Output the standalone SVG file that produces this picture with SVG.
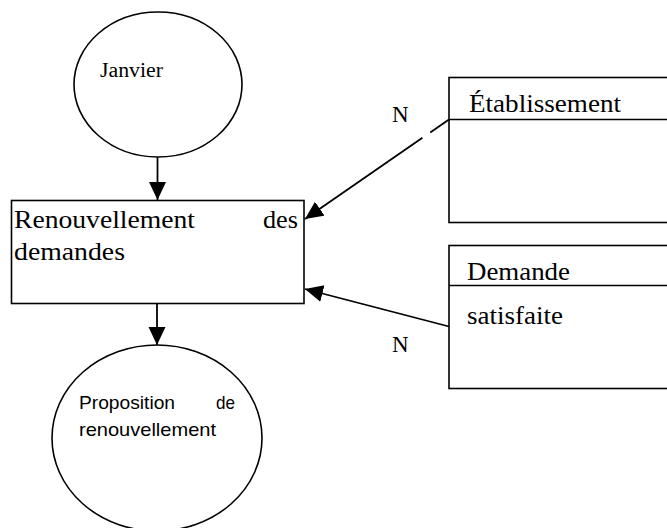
<svg xmlns="http://www.w3.org/2000/svg" width="667" height="528" viewBox="0 0 667 528">
<style>
.shape{fill:#fff;stroke:#000;stroke-width:1.6}
.line{fill:none;stroke:#000;stroke-width:1.6}
.conn{fill:none;stroke:#000;stroke-width:1.8}
.serif{font-family:"Liberation Serif","Times New Roman",serif;fill:#000}
.sans{font-family:"Liberation Sans",Arial,sans-serif;fill:#000}
</style>
<defs>
<marker id="arr" markerUnits="userSpaceOnUse" markerWidth="20" markerHeight="20" refX="18" refY="8.5" orient="auto">
<path d="M0,0 L18,8.5 L0,17 z" fill="#000"/>
</marker>
</defs>
<rect width="667" height="528" fill="#fff"/>
<g id="janvier">
<ellipse class="shape" cx="158" cy="84.5" rx="84" ry="72.5"/>
<text class="serif" x="100" y="77" font-size="20" textLength="63" lengthAdjust="spacingAndGlyphs">Janvier</text>
</g>
<g id="renouvellement">
<rect class="shape" x="11.5" y="200.5" width="292.5" height="103"/>
<text class="serif" x="14" y="228" font-size="26" textLength="181" lengthAdjust="spacingAndGlyphs">Renouvellement</text>
<text class="serif" x="263" y="228" font-size="26" textLength="35" lengthAdjust="spacingAndGlyphs">des</text>
<text class="serif" x="14" y="260" font-size="26" textLength="111" lengthAdjust="spacingAndGlyphs">demandes</text>
</g>
<g id="proposition">
<ellipse class="shape" cx="157" cy="438" rx="105" ry="93"/>
<text class="sans" x="79" y="409" font-size="18.5" textLength="96" lengthAdjust="spacingAndGlyphs">Proposition</text>
<text class="sans" x="216" y="409" font-size="18.5" textLength="19" lengthAdjust="spacingAndGlyphs">de</text>
<text class="sans" x="79" y="436" font-size="18.5" textLength="137" lengthAdjust="spacingAndGlyphs">renouvellement</text>
</g>
<g id="etablissement">
<rect class="shape" x="449" y="77.5" width="230" height="145"/>
<line class="line" x1="449" y1="119.5" x2="667" y2="119.5"/>
<text class="serif" x="469" y="112" font-size="25" textLength="152" lengthAdjust="spacingAndGlyphs">Établissement</text>
</g>
<g id="demande">
<rect class="shape" x="449" y="245.5" width="230" height="143"/>
<line class="line" x1="449" y1="285.5" x2="667" y2="285.5"/>
<text class="serif" x="467" y="280" font-size="25" textLength="103" lengthAdjust="spacingAndGlyphs">Demande</text>
<text class="serif" x="467" y="324" font-size="25" textLength="96" lengthAdjust="spacingAndGlyphs">satisfaite</text>
</g>
<g id="connectors">
<line class="conn" x1="157.5" y1="157" x2="157.5" y2="200" marker-end="url(#arr)"/>
<line class="conn" x1="157" y1="303.5" x2="157" y2="345" marker-end="url(#arr)"/>
<line class="conn" x1="449" y1="119.5" x2="305" y2="219" stroke-dasharray="22.8 9.5 200" marker-end="url(#arr)"/>
<line class="conn" x1="449" y1="326.5" x2="305" y2="289" marker-end="url(#arr)"/>
<text class="serif" x="392" y="122" font-size="23">N</text>
<text class="serif" x="392" y="352" font-size="23">N</text>
</g>
</svg>
